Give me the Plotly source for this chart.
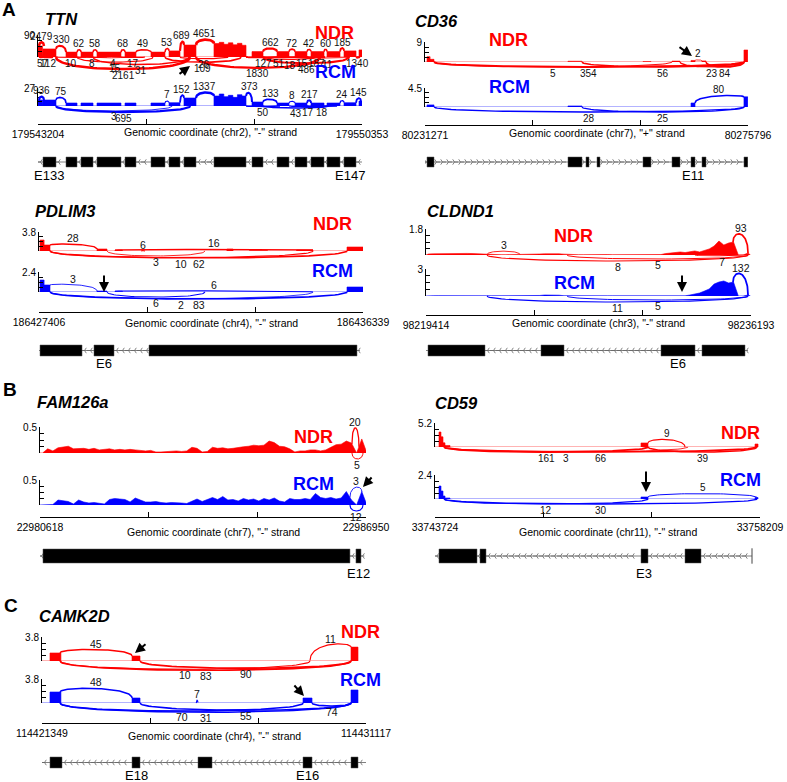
import numpy as np
import plotly.graph_objects as go

W, H = 787, 782
RED, BLUE = "#ff0000", "#0000ff"
FONT = "Liberation Sans, Arial, Helvetica, sans-serif"

# ====================== DATA (positions = bp offset from window start) ======================
# ---- TTN ----
TTN_START, TTN_END = 179543204, 179550353
TTN_TX = (0, 7149)
TTN_EXONS = [(110, 397), (618, 861), (949, 1214), (1302, 1831), (1920, 2162), (2493, 2802), (2891, 3133),
             (3221, 3486), (3883, 4590), (4722, 4965), (5274, 5538), (5671, 5935), (6024, 6311), (6377, 6664),
             (6752, 7017)]
TTN_EXON_LABELS = [(0, "E133"), (14, "E147")]
TTN_NDR_YMAX, TTN_RCM_YMAX = 90, 27
TTN_NDR_COV = [(0, 100, 45), (110, 397, 33), (618, 861, 20), (949, 1214, 20), (1302, 1831, 20), (1920, 2162, 20),
               (2493, 2802, 20), (2891, 3133, 25), (3221, 3486, 49), (3883, 4000, 55), (4000, 4100, 60),
               (4100, 4200, 52), (4200, 4300, 58), (4300, 4400, 50), (4400, 4500, 56), (4500, 4590, 48),
               (4722, 4965, 22), (5274, 5538, 22), (5671, 5935, 22), (6024, 6311, 22), (6377, 6664, 22),
               (6752, 7017, 25), (7083, 7149, 29)]
TTN_RCM_COV = [(0, 100, 9), (110, 397, 9), (618, 861, 4.5), (949, 1214, 4.5), (1302, 1831, 4.5), (1920, 2162, 4.5),
               (2493, 2802, 4.5), (2891, 3133, 5), (3221, 3486, 12), (3883, 4000, 15), (4000, 4100, 18),
               (4100, 4200, 14), (4200, 4300, 16), (4300, 4400, 13), (4400, 4500, 17), (4500, 4590, 15),
               (4722, 4965, 6), (5274, 5538, 4.5), (5671, 5935, 4.5), (6024, 6311, 4.5), (6377, 6664, 4.5),
               (6752, 7017, 5), (7083, 7149, 7.5)]
TTN_NDR_JX = [(22, 132, 2479, "up"), (397, 618, 330, "up"), (861, 949, 62, "up"), (1214, 1302, 58, "up"),
              (1831, 1920, 68, "up"), (2162, 2493, 49, "up"), (2802, 2891, 53, "up"), (3133, 3221, 689, "up"),
              (3486, 3883, 4651, "up"), (4965, 5274, 662, "up"), (5538, 5671, 72, "up"), (5935, 6024, 42, "up"),
              (6311, 6377, 60, "up"), (6664, 6752, 185, "up"),
              (22, 199, 57, "down"), (110, 331, 112, "down"), (397, 1059, 10, "down"), (861, 1522, 8, "down"),
              (1214, 2096, 4, "down"), (861, 2537, 15, "down"), (397, 3354, 2161, "down"), (1831, 2361, 17, "down"),
              (1214, 3332, 31, "down"), (3133, 4192, 26, "down"), (2802, 4479, 109, "down"),
              (4590, 5340, 127, "down"), (3486, 6222, 1830, "down"), (4965, 5671, 51, "down"),
              (4965, 6156, 18, "down"), (5538, 6112, 15, "down"), (5935, 6333, 187, "down"),
              (4965, 6862, 486, "down"), (5935, 6862, 11, "down"), (7017, 7083, 1340, "down")]
TTN_RCM_JX = [(22, 132, 936, "up"), (397, 618, 75, "up"), (2802, 2891, 7, "up"), (3133, 3221, 152, "up"),
              (3486, 3883, 1337, "up"), (4590, 4722, 373, "up"), (4965, 5274, 133, "up"), (5538, 5671, 8, "up"),
              (5935, 6024, 217, "up"), (6664, 6752, 24, "up"), (7017, 7127, 145, "up"),
              (397, 2957, 3, "down"), (397, 3354, 695, "down"), (4590, 5340, 50, "down"),
              (4965, 6421, 43, "down"), (5538, 6377, 17, "down"), (5935, 6598, 18, "down")]

# ---- CD36 ----
CD36_START, CD36_END = 80231271, 80275796
CD36_TX = (0, 44500)
CD36_EXONS = [(280, 1240), (19710, 21640), (22190, 22610), (23710, 24120), (30050, 31150), (34050, 35150),
              (36670, 37220), (38180, 38740), (43970, 44500)]
CD36_EXON_LABELS = [(6, "E11")]
CD36_NDR_YMAX, CD36_RCM_YMAX = 9, 4.5
CD36_NDR_COV = [(280, 700, 2.4), (700, 1240, 1.2), (19710, 21640, 0.35), (30050, 31150, 0.2), (34050, 35150, 0.4),
                (36670, 37220, 0.7), (38180, 38740, 0.5), (43970, 44500, 5.4)]
CD36_RCM_COV = [(280, 1240, 0.5), (19710, 21640, 0.25), (36670, 37220, 0.95), (43970, 44500, 2.4)]
CD36_NDR_JX = [(37220, 38180, 2, "up"), (1240, 34050, 5, "down"), (1240, 43970, 354, "down"),
               (21640, 43970, 56, "down"), (35150, 43970, 23, "down"), (38740, 43970, 84, "down")]
CD36_RCM_JX = [(37220, 43970, 80, "up"), (1240, 43970, 28, "down"), (21640, 43970, 25, "down")]

# ---- PDLIM3 ----
PDLIM3_START, PDLIM3_END = 186427406, 186436339
PDLIM3_TX = (0, 8850)
PDLIM3_EXONS = [(28, 1186), (1516, 2068), (3033, 8767)]
PDLIM3_EXON_LABELS = [(1, "E6")]
PDLIM3_NDR_YMAX, PDLIM3_RCM_YMAX = 3.8, 2.4
PDLIM3_NDR_COV = [(28, 140, 2.2), (140, 303, 1.2), (1599, 1875, 0.4), (2095, 2300, 0.2), (5180, 5350, 0.4),
                  (5800, 6300, 0.1), (7100, 7554, 0.2), (8492, 8933, 0.8)]
PDLIM3_RCM_COV = [(28, 140, 1.44), (140, 303, 0.84), (1599, 1875, 0.12), (2095, 2300, 0.1), (8492, 8933, 0.6)]
PDLIM3_NDR_JX = [(303, 1599, 28, "up"), (2812, 2923, 6, "up"), (2095, 7554, 16, "up"),
                 (1875, 4577, 3, "down"), (303, 7554, 10, "down"), (303, 8492, 62, "down")]
PDLIM3_RCM_JX = [(303, 1599, 3, "up"), (2095, 7554, 6, "up"),
                 (1875, 4577, 6, "down"), (303, 7554, 2, "down"), (303, 8492, 83, "down")]

# ---- CLDND1 (coverage in 250-bp bins) ----
CLDND1_START, CLDND1_END = 98219414, 98236193
CLDND1_TX = (0, 16625)
CLDND1_EXONS = [(103, 3046), (5937, 7125), (12133, 13889), (14250, 16470)]
CLDND1_EXON_LABELS = [(2, "E6")]
CLDND1_NDR_YMAX, CLDND1_RCM_YMAX = 1.8, 3
CLDND1_BIN = 250
CLDND1_NDR_BINS = [0.07, 0.08, 0.09, 0.10, 0.10, 0.09, 0.10, 0.10, 0.11, 0.10, 0.08, 0.10,
                   0.03, 0.02, 0.02, 0.02, 0.02, 0.02, 0.02, 0.03, 0.02, 0.02, 0.03,
                   0.07, 0.08, 0.09, 0.09, 0.08, 0.06, 0.03, 0.02,
                   0.02, 0.02, 0.03, 0.02, 0.02, 0.02, 0.03, 0.02, 0.02, 0.02, 0.02, 0.03, 0.02, 0.02, 0.02, 0.02, 0.03,
                   0.03, 0.10, 0.14, 0.17, 0.21, 0.17, 0.24, 0.28, 0.21, 0.31, 0.42, 0.62, 0.97, 0.69, 0.83, 0.90,
                   0.0, 0.0, 0.14]
CLDND1_RCM_BINS = [0.03, 0.03, 0.04, 0.03, 0.03, 0.03, 0.04, 0.03, 0.03, 0.03, 0.03, 0.03,
                   0.02, 0.02, 0.02, 0.02, 0.02, 0.02, 0.02, 0.02, 0.02, 0.02, 0.02,
                   0.06, 0.11, 0.13, 0.11, 0.09, 0.03,
                   0.02, 0.02, 0.02, 0.02, 0.02, 0.02, 0.02, 0.02, 0.02, 0.02, 0.02, 0.02, 0.02,
                   0.02, 0.02, 0.02, 0.02, 0.02, 0.02, 0.02, 0.02, 0.02, 0.02, 0.02, 0.02,
                   0.11, 0.22, 0.33, 0.55, 0.78, 1.33, 1.55, 1.67, 1.44, 1.55,
                   0.0, 0.0, 0.11]
CLDND1_NDR_JX = [(3149, 4853, 3, "up"), (15850, 16625, 93, "up"),
                 (3149, 16625, 8, "down"), (7280, 16625, 5, "down"), (13889, 16625, 7, "down")]
CLDND1_RCM_JX = [(15850, 16625, 132, "up"), (3149, 16625, 11, "down"), (7280, 16625, 5, "down")]

# ---- FAM126a (coverage in 100-bp bins) ----
FAM_START, FAM_END = 22980618, 22986950
FAM_TX = (0, 6300)
FAM_EXONS = [(58, 6020), (6137, 6234)]
FAM_EXON_LABELS = [(1, "E12")]
FAM_NDR_YMAX, FAM_RCM_YMAX = 0.5, 0.5
FAM_BIN = 100
FAM_NDR_BINS = [0, 0.08, 0.04, 0.10, 0.11, 0.13, 0.08, 0.08, 0.09, 0.07,
                0.09, 0.06, 0.07, 0.08, 0.06, 0.07, 0.06, 0.07, 0.06, 0.05,
                0.04, 0.05, 0.02, 0.02, 0.03, 0.03, 0.04, 0.03, 0.04, 0.11,
                0.09, 0.02, 0.03, 0.11, 0.09, 0.10, 0.08, 0.09, 0.11, 0.12,
                0.13, 0.15, 0.14, 0.15, 0.23, 0.20, 0.13, 0.12, 0.08, 0.02,
                0.04, 0.04, 0.06, 0.06, 0.04, 0.06, 0.11, 0.16, 0.17, 0.23,
                0.19, 0.0, 0.27, 0.0]
FAM_RCM_BINS = [0, 0.01, 0.01, 0.10, 0.09, 0.07, 0.02, 0.10, 0.06, 0.04,
                0.05, 0.04, 0.02, 0.11, 0.13, 0.12, 0.11, 0.06, 0.14, 0.10,
                0.06, 0.06, 0.07, 0.05, 0.04, 0.05, 0.05, 0.04, 0.03, 0.07,
                0.12, 0.07, 0.11, 0.15, 0.11, 0.17, 0.10, 0.11, 0.08, 0.13,
                0.10, 0.12, 0.08, 0.13, 0.10, 0.14, 0.08, 0.06, 0.13, 0.11,
                0.11, 0.13, 0.11, 0.23, 0.15, 0.13, 0.15, 0.12, 0.14, 0.27,
                0.10, 0.0, 0.27, 0.0]
FAM_NDR_JX = [(6059, 6195, 20, "up"), (6059, 6273, 5, "down")]
FAM_RCM_JX = [(6020, 6253, 3, "up"), (6020, 6273, 12, "down")]

# ---- CD59 ----
CD59_START, CD59_END = 33743724, 33758209
CD59_TX = (0, 14129)
CD59_EXONS = [(178, 1872), (2006, 2273), (9181, 9493), (11143, 11856)]
CD59_EXON_LABELS = [(2, "E3")]
CD59_NDR_YMAX, CD59_RCM_YMAX = 5.2, 2.4
CD59_NDR_COV = [(178, 267, 3.25), (267, 357, 2.2), (357, 446, 0.9), (446, 669, 0.33), (9181, 9493, 0.87),
                (14263, 14397, 0.65)]
CD59_RCM_COV = [(178, 267, 1.3), (267, 357, 0.8), (357, 446, 0.3), (446, 669, 0.1), (9181, 9493, 0.2),
                (14263, 14397, 0.15)]
CD59_NDR_JX = [(9493, 11143, 9, "up"), (401, 9493, 161, "down"), (401, 11276, 3, "down"),
               (401, 14352, 66, "down"), (9493, 14352, 39, "down")]
CD59_RCM_JX = [(9493, 14352, 5, "up"), (401, 9493, 12, "down"), (401, 14352, 30, "down")]

# ---- CAMK2D ----
CAMK_START, CAMK_END = 114421349, 114431117
CAMK_TX = (0, 9768)
CAMK_EXONS = [(241, 603), (2714, 2955), (4703, 5126), (7869, 8141), (9316, 9527)]
CAMK_EXON_LABELS = [(1, "E18"), (3, "E16")]
CAMK_NDR_YMAX, CAMK_RCM_YMAX = 3.8, 3.8
CAMK_NDR_COV = [(241, 570, 1.27), (2714, 2955, 0.79), (4703, 5126, 0.08), (7869, 8141, 0.1), (9316, 9527, 2.2)]
CAMK_RCM_COV = [(241, 570, 1.74), (2714, 2955, 0.79), (4703, 5126, 0.08), (7869, 8141, 0.79), (9316, 9527, 2.06)]
CAMK_NDR_JX = [(543, 2714, 45, "up"), (8081, 9316, 11, "up"),
               (543, 8081, 10, "down"), (543, 9316, 83, "down"), (2955, 9316, 90, "down")]
CAMK_RCM_JX = [(543, 2714, 48, "up"), (4650, 4700, 7, "up"),
               (543, 7869, 70, "down"), (543, 9316, 31, "down"), (2955, 9316, 55, "down"),
               (8141, 9316, 74, "down")]

# ====================== LAYOUT / STYLE (pixel geometry) ======================
def T(name, color, ymax, cov, jx, top, base, lab, dscale=1.0):
    return dict(name=name, color=color, ymax=ymax, cov=cov, jx=jx, top=top, base=base, lab=lab, dscale=dscale)

PANELS = [
    dict(gene="TTN", chrom="chr2", strand="-", start=TTN_START, end=TTN_END, exons=TTN_EXONS, tx=TTN_TX,
         exlab=TTN_EXON_LABELS, x0=38, x1=362, axis=124, title_y=132, gene_y=162, exh=5, exlab_y=175,
         name_xy=(43, 19),
         tracks=[T("NDR", RED, TTN_NDR_YMAX, TTN_NDR_COV, TTN_NDR_JX, 35, 57, (334, 33)),
                 T("RCM", BLUE, TTN_RCM_YMAX, TTN_RCM_COV, TTN_RCM_JX, 88, 106, (335, 72), 0.5)],
         arc=dict(r0=1, r1=0.8, d0=-4, d1=0.12, dmin=0.5, dmax=13), jfs=10),
    dict(gene="CD36", chrom="chr7", strand="+", start=CD36_START, end=CD36_END, exons=CD36_EXONS, tx=CD36_TX,
         exlab=CD36_EXON_LABELS, x0=425, x1=748, axis=125, title_y=133, gene_y=162, exh=5, exlab_y=175,
         name_xy=(413, 21),
         tracks=[T("NDR", RED, CD36_NDR_YMAX, CD36_NDR_COV, CD36_NDR_JX, 42, 62, (508, 40)),
                 T("RCM", BLUE, CD36_RCM_YMAX, CD36_RCM_COV, CD36_RCM_JX, 88, 107, (509, 87))],
         arc=dict(r0=0.5, r1=0.3, d0=5, d1=0, dmin=5, dmax=5), jfs=10),
    dict(gene="PDLIM3", chrom="chr4", strand="-", start=PDLIM3_START, end=PDLIM3_END, exons=PDLIM3_EXONS,
         tx=PDLIM3_TX, exlab=PDLIM3_EXON_LABELS, x0=39, x1=363, axis=312, title_y=323, gene_y=350.5, exh=5.5,
         exlab_y=363, name_xy=(33, 211),
         tracks=[T("NDR", RED, PDLIM3_NDR_YMAX, PDLIM3_NDR_COV, PDLIM3_NDR_JX, 232, 251, (332, 224)),
                 T("RCM", BLUE, PDLIM3_RCM_YMAX, PDLIM3_RCM_COV, PDLIM3_RCM_JX, 272, 292, (332, 271))],
         arc=dict(r0=0, r1=0.5, d0=4, d1=0.01, dmin=4, dmax=8), jfs=10.5),
    dict(gene="CLDND1", chrom="chr3", strand="-", start=CLDND1_START, end=CLDND1_END, exons=CLDND1_EXONS,
         tx=CLDND1_TX, exlab=CLDND1_EXON_LABELS, x0=426, x1=751, axis=315, title_y=323, gene_y=350.5, exh=5.5,
         exlab_y=363, name_xy=(425, 211),
         tracks=[T("NDR", RED, CLDND1_NDR_YMAX, dict(bin=CLDND1_BIN, vals=CLDND1_NDR_BINS), CLDND1_NDR_JX,
                   229, 255, (573, 236)),
                 T("RCM", BLUE, CLDND1_RCM_YMAX, dict(bin=CLDND1_BIN, vals=CLDND1_RCM_BINS), CLDND1_RCM_JX,
                   269, 296, (574, 283))],
         arc=dict(r0=2, r1=3, d0=-0.5, d1=0.025, dmin=0.8, dmax=6), jfs=10.5),
    dict(gene="FAM126a", chrom="chr7", strand="-", start=FAM_START, end=FAM_END, exons=FAM_EXONS, tx=FAM_TX,
         exlab=FAM_EXON_LABELS, x0=40, x1=366, axis=517, title_y=532, gene_y=556, exh=7, exlab_y=573,
         name_xy=(35, 402),
         tracks=[T("NDR", RED, FAM_NDR_YMAX, dict(bin=FAM_BIN, vals=FAM_NDR_BINS), FAM_NDR_JX, 427, 453, (313, 437)),
                 T("RCM", BLUE, FAM_RCM_YMAX, dict(bin=FAM_BIN, vals=FAM_RCM_BINS), FAM_RCM_JX, 480, 505, (313, 484))],
         arc=dict(r0=-2, r1=14, d0=6, d1=0, dmin=6, dmax=6), jfs=10.5),
    dict(gene="CD59", chrom="chr11", strand="-", start=CD59_START, end=CD59_END, exons=CD59_EXONS, tx=CD59_TX,
         exlab=CD59_EXON_LABELS, x0=435, x1=760, axis=517, title_y=532, gene_y=556, exh=7, exlab_y=573,
         name_xy=(433, 403), txbar=True,
         tracks=[T("NDR", RED, CD59_NDR_YMAX, CD59_NDR_COV, CD59_NDR_JX, 423, 447, (740, 433)),
                 T("RCM", BLUE, CD59_RCM_YMAX, CD59_RCM_COV, CD59_RCM_JX, 475, 499, (740, 480))],
         arc=dict(r0=3, r1=0.5, d0=5, d1=0, dmin=5, dmax=5), jfs=10),
    dict(gene="CAMK2D", chrom="chr4", strand="-", start=CAMK_START, end=CAMK_END, exons=CAMK_EXONS, tx=CAMK_TX,
         exlab=CAMK_EXON_LABELS, x0=42, x1=366, axis=723, title_y=736, gene_y=762.5, exh=5.5, exlab_y=775.5,
         name_xy=(37, 616),
         tracks=[T("NDR", RED, CAMK_NDR_YMAX, CAMK_NDR_COV, CAMK_NDR_JX, 637, 661, (360, 632)),
                 T("RCM", BLUE, CAMK_RCM_YMAX, CAMK_RCM_COV, CAMK_RCM_JX, 679, 703, (360, 680))],
         arc=dict(r0=1, r1=1.5, d0=2, d1=0.025, dmin=2, dmax=10), jfs=10.5),
]

PANEL_LETTERS = [("A", 9, 10), ("B", 10, 389), ("C", 11, 605)]
# arrows: (panel index, tip bp, tip y px, tail dx px, tail dy px)
ARROWS = [(0, 3354, 66, -12, 9), (1, 36806, 56, -14, -10), (2, 1792, 292, 0, -18), (3, 13217, 292, 0, -18),
          (4, 6273, 487, 10, -11), (5, 9404, 492, 0, -22), (6, 2804, 653, 12, -10), (6, 7899, 696, -11, -12)]


# ====================== helpers ======================
def py(p):
    return 1 - p / H


def yname(n):
    return "y" if n == 1 else f"y{n}"


def ykey(n):
    return "yaxis" if n == 1 else f"yaxis{n}"


def cov_polyline(cov):
    if isinstance(cov, dict):
        b, v = cov["bin"], cov["vals"]
        xs = [0.0] + [(i + 0.5) * b for i in range(len(v))] + [len(v) * b]
        ys = [0.0] + list(v) + [0.0]
        return np.array(xs, float), np.array(ys, float)
    xs, ys = [0.0], [0.0]
    for s, e, v in sorted(cov):
        xs += [s, s, e, e]
        ys += [0, v, v, 0]
    return np.array(xs, float), np.array(ys, float)


def cov_at(cov, pos, tol):
    if isinstance(cov, dict):
        xs, ys = cov_polyline(cov)
        return float(np.interp(pos, xs, ys))
    vals = [v for s, e, v in cov if s - tol <= pos <= e + tol]
    return max(vals) if vals else 0.0


def bez(a, b, ya, yb, c, n=50):
    t = np.linspace(0, 1, n)
    x = (1 - t) ** 3 * a + 3 * (1 - t) ** 2 * t * a + 3 * (1 - t) * t ** 2 * b + t ** 3 * b
    y = (1 - t) ** 3 * ya + 3 * (1 - t) ** 2 * t * c + 3 * (1 - t) * t ** 2 * c + t ** 3 * yb
    return x, y


# ====================== build ======================
fig = go.Figure()
layout = dict(width=W, height=H, autosize=False, margin=dict(l=0, r=0, t=0, b=0, pad=0, autoexpand=False),
              paper_bgcolor="white", plot_bgcolor="rgba(0,0,0,0)", showlegend=False,
              font=dict(family=FONT, size=10, color="black"))
ann, shapes = [], []
yn = 0
xnames = []

for pi, P in enumerate(PANELS, start=1):
    xn = "x" if pi == 1 else f"x{pi}"
    xk = "xaxis" if pi == 1 else f"xaxis{pi}"
    xnames.append(xn)
    span = P["end"] - P["start"]
    kbp = span / (P["x1"] - P["x0"])
    # holder y-axis whose bottom edge carries the genomic coordinate axis
    yn += 1
    h_n = yn
    layout[ykey(h_n)] = dict(domain=[py(P["axis"]), py(P["axis"] - 4)], range=[0, 1], anchor=xn, visible=False,
                             fixedrange=True)
    fig.add_trace(go.Scatter(x=[0], y=[-1], mode="markers", marker=dict(size=1, opacity=0), xaxis=xn,
                             yaxis=yname(h_n), hoverinfo="skip"))
    layout[xk] = dict(domain=[P["x0"] / W, P["x1"] / W], range=[0, span], anchor=yname(h_n), side="bottom",
                      showline=True, linecolor="black", linewidth=1, ticks="inside", ticklen=5, tickcolor="black",
                      tickwidth=1, tickvals=[0, span / 3, 2 * span / 3, span],
                      ticktext=[str(P["start"]), "", "", str(P["end"])], tickfont=dict(size=10.5),
                      showgrid=False, zeroline=False, fixedrange=True, automargin=False)
    A = P["arc"]
    for tr in P["tracks"]:
        yn += 1
        ys_n = yn
        yn += 1
        yb_n = yn
        top, base, ymax = tr["top"], tr["base"], tr["ymax"]
        u = ymax / (base - top)
        layout[ykey(ys_n)] = dict(domain=[py(base), py(top)], range=[0, ymax], anchor=xn, showline=True,
                                  linecolor="black", linewidth=1, ticks="inside", ticklen=3.5, tickcolor="black",
                                  tickvals=[0, ymax / 4, ymax / 2, 3 * ymax / 4, ymax],
                                  ticktext=["", "", "", "", f"{ymax:g}"], tickfont=dict(size=10),
                                  showgrid=False, zeroline=False, fixedrange=True, automargin=False)
        tp = max(0, top - 30)
        bp = min(H, base + 30)
        layout[ykey(yb_n)] = dict(domain=[py(bp), py(tp)], range=[-(bp - base) * u, ymax + (top - tp) * u],
                                  anchor=xn, visible=False, fixedrange=True)
        cx, cy = cov_polyline(tr["cov"])
        fig.add_trace(go.Scatter(x=cx, y=cy, mode="lines", line=dict(color=tr["color"], width=0.6),
                                 fill="tozeroy", fillcolor=tr["color"], xaxis=xn, yaxis=yname(ys_n),
                                 hoverinfo="skip"))
        tol = 1.5 * kbp
        for a, b, cnt, side in tr["jx"]:
            lw = 0.5 + 0.6 * np.log10(cnt + 1)
            if side == "up":
                ya = cov_at(tr["cov"], a, tol)
                yb = cov_at(tr["cov"], b, tol)
                rise = max(0.4, A["r0"] + A["r1"] * np.log10(cnt)) * u
                apex = max(ya, yb) + rise
                c = (apex - (ya + yb) / 8) / 0.75
                x, y = bez(a, b, ya, yb, c)
                ly = apex + 6 * u
            else:
                span_px = (b - a) / kbp
                d = float(np.clip(A["d0"] + A["d1"] * span_px, A["dmin"], A["dmax"])) * tr["dscale"]
                d = max(d, 0.5)
                c = -d * u / 0.75
                x, y = bez(a, b, 0, 0, c)
                ly = -d * u - 6 * u
            fig.add_trace(go.Scatter(x=x, y=y, mode="lines", line=dict(color=tr["color"], width=lw),
                                     xaxis=xn, yaxis=yname(yb_n), hoverinfo="skip"))
            ann.append(dict(text=str(cnt), x=(a + b) / 2, y=ly, xref=xn, yref=yname(yb_n), showarrow=False,
                            font=dict(size=P["jfs"], color="#111"), xanchor="center", yanchor="middle"))
        ann.append(dict(text=f"<b>{tr['name']}</b>", x=tr["lab"][0] / W, y=py(tr["lab"][1]), xref="paper",
                        yref="paper", showarrow=False, font=dict(size=18, color=tr["color"]),
                        xanchor="center", yanchor="middle"))
    # gene model
    yn += 1
    g_n = yn
    g = P["gene_y"]
    layout[ykey(g_n)] = dict(domain=[py(g + 10), py(g - 10)], range=[0, 1], anchor=xn, visible=False,
                             fixedrange=True)
    fig.add_trace(go.Scatter(x=list(P["tx"]), y=[0.5, 0.5], mode="lines", line=dict(color="#808080", width=1),
                             xaxis=xn, yaxis=yname(g_n), hoverinfo="skip"))
    ex = sorted(P["exons"])
    gaps, prev = [], P["tx"][0]
    for s, e in ex:
        if s > prev:
            gaps.append((prev, s))
        prev = max(prev, e)
    if P["tx"][1] > prev:
        gaps.append((prev, P["tx"][1]))
    chev = []
    for g0, g1 in gaps:
        p0, p1 = g0 + 2.5 * kbp, g1 - 2.5 * kbp
        if p1 < p0:
            if g1 - g0 > 2 * kbp:
                chev.append((g0 + g1) / 2)
            continue
        p = p0
        while p <= p1 + 1e-6:
            chev.append(p)
            p += 6 * kbp
    sym = "y-left" if P["strand"] == "-" else "y-right"
    fig.add_trace(go.Scatter(x=chev, y=[0.5] * len(chev), mode="markers",
                             marker=dict(symbol=sym, size=4.5, color="#666", line=dict(width=0.8, color="#666")),
                             xaxis=xn, yaxis=yname(g_n), hoverinfo="skip"))
    if P.get("txbar"):
        fig.add_trace(go.Scatter(x=[P["tx"][1]], y=[0.5], mode="markers",
                                 marker=dict(symbol="line-ns", size=11, line=dict(width=1, color="#444")),
                                 xaxis=xn, yaxis=yname(g_n), hoverinfo="skip"))
    hh = P["exh"] / 20.0
    for s, e in P["exons"]:
        shapes.append(dict(type="rect", xref=xn, yref=yname(g_n), x0=s, x1=e, y0=0.5 - hh, y1=0.5 + hh,
                           fillcolor="black", line=dict(color="#555", width=0.5), layer="above"))
    for idx, lab in P["exlab"]:
        s, e = P["exons"][idx]
        ann.append(dict(text=lab, x=(s + e) / 2, y=py(P["exlab_y"]), xref=xn, yref="paper", showarrow=False,
                        font=dict(size=13), xanchor="center", yanchor="middle"))
    ann.append(dict(text=f"<b><i>{P['gene']}</i></b>", x=P["name_xy"][0] / W, y=py(P["name_xy"][1]),
                    xref="paper", yref="paper", showarrow=False, font=dict(size=16.5), xanchor="left",
                    yanchor="middle"))
    ann.append(dict(text=f'Genomic coordinate ({P["chrom"]}), "{P["strand"]}" strand',
                    x=((P["x0"] + P["x1"]) / 2 + 10) / W, y=py(P["title_y"]), xref="paper", yref="paper",
                    showarrow=False, font=dict(size=10.5), xanchor="center", yanchor="middle"))

for L, x, y in PANEL_LETTERS:
    ann.append(dict(text=f"<b>{L}</b>", x=x / W, y=py(y), xref="paper", yref="paper", showarrow=False,
                    font=dict(size=19), xanchor="center", yanchor="middle"))

for pidx, bpos, ypx, dx, dy in ARROWS:
    ann.append(dict(text="", x=bpos, y=py(ypx), xref=xnames[pidx], yref="paper", showarrow=True,
                    arrowhead=2, arrowsize=1, arrowwidth=2, arrowcolor="black", ax=dx, ay=dy,
                    axref="pixel", ayref="pixel"))

layout["annotations"] = ann
layout["shapes"] = shapes
fig.update_layout(**layout)
fig.write_html("out.html", config={"displayModeBar": False, "staticPlot": True},
               post_script="document.body.style.margin='0';document.body.style.padding='0';"
                           "document.body.style.overflow='hidden';")
